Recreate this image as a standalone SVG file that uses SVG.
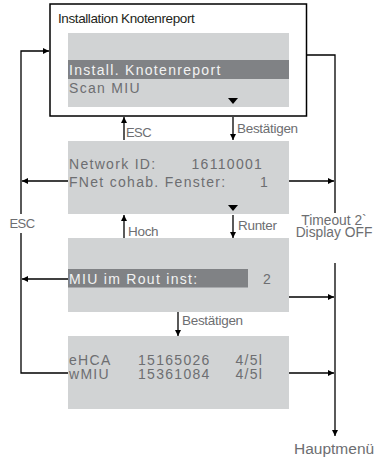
<svg xmlns="http://www.w3.org/2000/svg" width="386" height="457" viewBox="0 0 386 457">
<defs>
<marker id="ah" viewBox="0 0 10 10" refX="10" refY="5" markerWidth="6" markerHeight="6" markerUnits="userSpaceOnUse" orient="auto"><path d="M0,0 L10,5 L0,10 z" fill="#000"/></marker>
<style>
.lcd{fill:#d1d3d4}
.hl{fill:#808285}
.t{font-family:"Liberation Sans",Arial,sans-serif;font-size:14px;letter-spacing:1.3px;fill:#6d6e71}
.tw{font-family:"Liberation Sans",Arial,sans-serif;font-size:14px;letter-spacing:1.3px;fill:#f2f2f2}
.lb{font-family:"Liberation Sans",Arial,sans-serif;font-size:13.5px;letter-spacing:-0.3px;fill:#6d6e71}
.ln{fill:none;stroke:#000;stroke-width:1.3}
.ar{fill:none;stroke:#000;stroke-width:1.3;marker-end:url(#ah)}
</style>
</defs>
<rect width="386" height="457" fill="#fff"/>
<g id="connectors">
<path class="ar" d="M21,214 L21,51 L49,51"/>
<path class="ln" d="M21,233 L21,373 L68,373"/>
<path class="ln" d="M307,55 L335,55 L335,213"/>
<path class="ar" d="M335,263 L335,436"/>
<path class="ar" d="M124,140 L124,117"/>
<path class="ar" d="M233,117 L233,140"/>
<path class="ar" d="M68,181 L22,181"/>
<path class="ar" d="M287,181 L334,181"/>
<path class="ar" d="M124,240 L124,215"/>
<path class="ar" d="M233,215 L233,238"/>
<path class="ar" d="M68,279 L22,279"/>
<path class="ar" d="M288,297 L334,297"/>
<path class="ar" d="M178,312 L178,336"/>
<path class="ar" d="M288,373 L334,373"/>
<text class="lb" x="126" y="137" style="font-size:13px;letter-spacing:-0.6px">ESC</text>
<text class="lb" x="237" y="132.5">Bestätigen</text>
<text class="lb" x="128" y="235.5">Hoch</text>
<text class="lb" x="238" y="230">Runter</text>
<text class="lb" x="22" y="227.5" text-anchor="middle" style="font-size:13px;letter-spacing:-0.6px">ESC</text>
<text class="lb" x="334" y="225" text-anchor="middle" style="font-size:13.8px;letter-spacing:0">Timeout 2`</text>
<text class="lb" x="334" y="237" text-anchor="middle" style="font-size:13.8px;letter-spacing:0">Display OFF</text>
<text class="lb" x="182" y="324.5">Bestätigen</text>
<text class="lb" x="294" y="453.5" style="font-size:15.5px;letter-spacing:0">Hauptmenü</text>
</g>
<g id="screen1">
<rect x="50" y="4" width="256.5" height="112" fill="#fff" stroke="#000" stroke-width="1.5"/>
<text x="58" y="22.5" style="font-family:'Liberation Sans',Arial,sans-serif;font-size:13.5px;letter-spacing:-0.4px;fill:#231f20">Installation Knotenreport</text>
<rect class="lcd" x="68" y="33" width="221" height="74"/>
<rect class="hl" x="68" y="60" width="221" height="19"/>
<text class="tw" x="69" y="75">Install. Knotenreport</text>
<text class="t" x="69" y="93">Scan MIU</text>
<path d="M228,98 L238,98 L233,104 z" fill="#000"/>
</g>
<g id="screen2">
<rect class="lcd" x="68" y="141" width="221" height="73"/>
<text class="t" x="69" y="169">Network ID:</text>
<text class="t" x="191.5" y="169">16110001</text>
<text class="t" x="69" y="186.5">FNet cohab. Fenster:</text>
<text class="t" x="260" y="186.5">1</text>
<path d="M228,205 L238,205 L233,211 z" fill="#000"/>
</g>
<g id="screen3">
<rect class="lcd" x="68" y="238" width="221" height="74"/>
<rect class="hl" x="68" y="269" width="180" height="18.5"/>
<text class="tw" x="69" y="283.5">MIU im Rout inst:</text>
<text class="t" x="263" y="283.5">2</text>
</g>
<g id="screen4">
<rect class="lcd" x="68" y="336" width="221" height="73"/>
<text class="t" x="69" y="365">eHCA</text>
<text class="t" x="138" y="365">15165026</text>
<text class="t" x="235.5" y="365">4/5l</text>
<text class="t" x="69" y="378.5">wMIU</text>
<text class="t" x="138" y="378.5">15361084</text>
<text class="t" x="235.5" y="378.5">4/5l</text>
</g>
</svg>
